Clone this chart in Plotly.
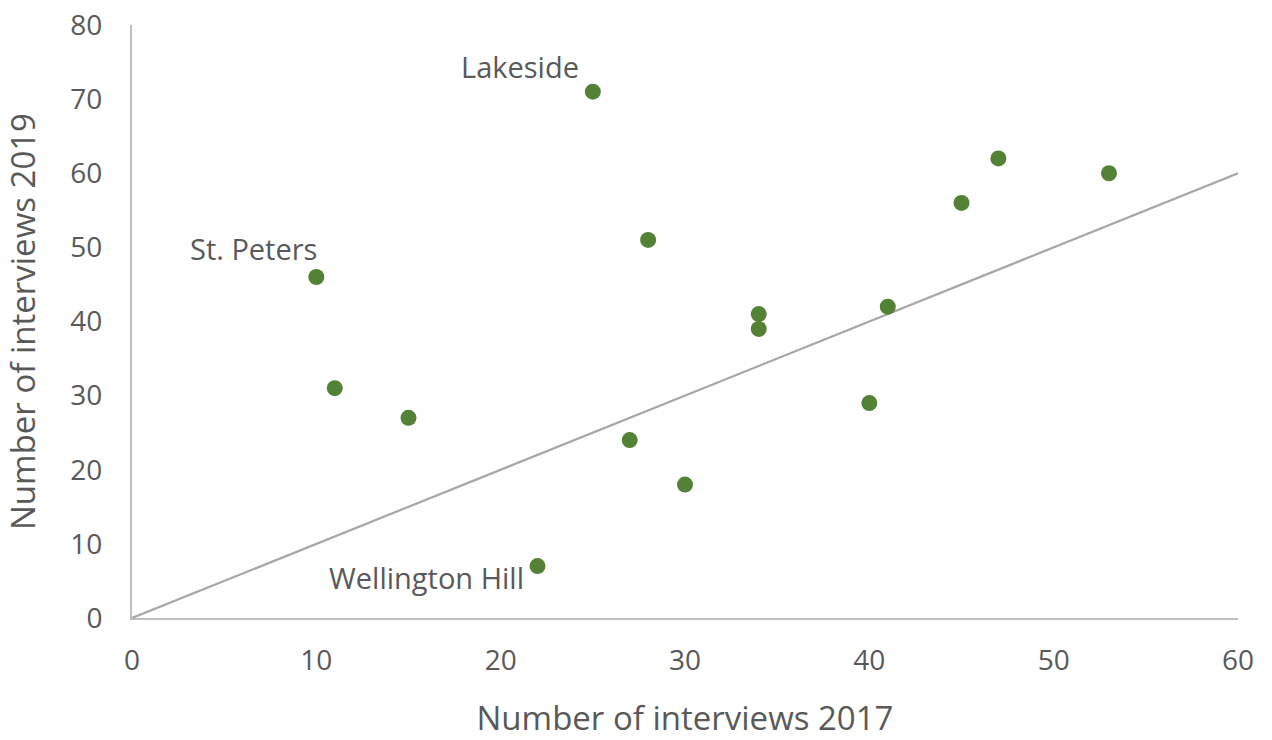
import plotly.graph_objects as go

x2017 = [10, 11, 15, 22, 25, 27, 28, 30, 34, 34, 40, 41, 45, 47, 53]
y2019 = [46, 31, 27, 7, 71, 24, 51, 18, 41, 39, 29, 42, 56, 62, 60]
names = ["St. Peters", "", "", "Wellington Hill", "Lakeside", "", "", "", "", "", "", "", "", "", ""]
ref_x = [0, 60]
ref_y = [0, 60]
xticks = [0, 10, 20, 30, 40, 50, 60]
yticks = [0, 10, 20, 30, 40, 50, 60, 70, 80]

FONT = "Open Sans"
TXT = "#595959"

fig = go.Figure()
fig.add_trace(go.Scatter(x=ref_x, y=ref_y, mode="lines",
                         line=dict(color="#a6a6a6", width=2.2),
                         hoverinfo="skip", showlegend=False))
fig.add_trace(go.Scatter(x=x2017, y=y2019, mode="markers",
                         marker=dict(color="#538135", size=16),
                         text=names, showlegend=False))

offsets = {"St. Peters": (0.15, 3.8), "Wellington Hill": (-0.65, -1.6), "Lakeside": (-0.65, 3.4)}
for xv, yv, n in zip(x2017, y2019, names):
    if n:
        dx, dy = offsets[n]
        fig.add_annotation(x=xv + dx, y=yv + dy, text=n, showarrow=False,
                           xanchor="right", yanchor="middle",
                           font=dict(family=FONT, size=29, color=TXT))

fig.update_layout(
    width=1272, height=740,
    margin=dict(l=132, r=34, t=25, b=122),
    paper_bgcolor="white", plot_bgcolor="white",
    font=dict(family=FONT, color=TXT),
)
fig.update_xaxes(range=[0, 60], tickvals=xticks, showgrid=False, zeroline=False,
                 showline=True, linecolor="#bfbfbf", linewidth=2,
                 ticks="", ticklabelstandoff=16, automargin=False,
                 tickfont=dict(family=FONT, size=28, color=TXT),
                 title=dict(text="Number of interviews 2017",
                            font=dict(family=FONT, size=33, color=TXT), standoff=38))
fig.update_yaxes(range=[0, 80], tickvals=yticks, showgrid=False, zeroline=False,
                 showline=True, linecolor="#bfbfbf", linewidth=2,
                 ticks="", ticklabelstandoff=22, automargin=False,
                 tickfont=dict(family=FONT, size=28, color=TXT),
                 title=dict(text="Number of interviews 2019",
                            font=dict(family=FONT, size=33, color=TXT), standoff=25))

fig.write_html("out.html", config={"displayModeBar": False},
               post_script="document.body.style.margin='0px';")
